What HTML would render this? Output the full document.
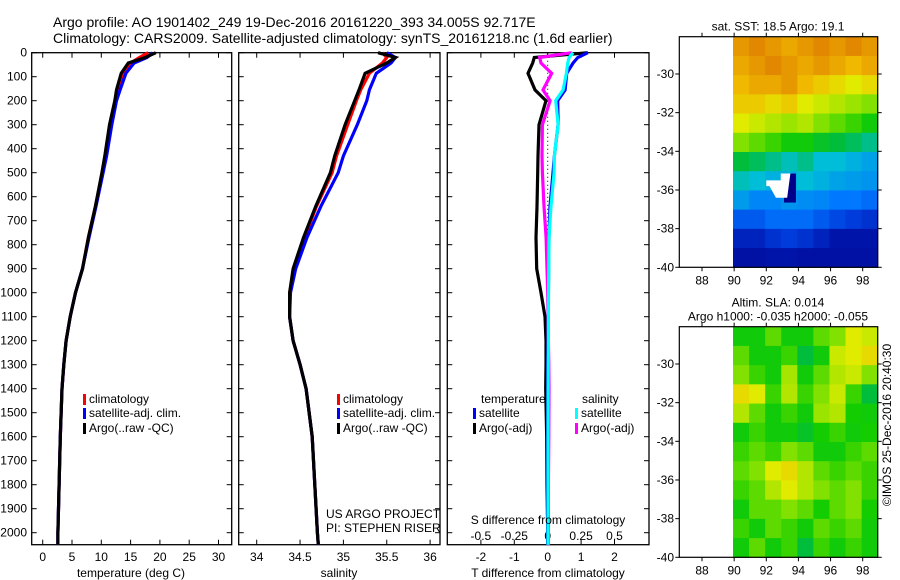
<!DOCTYPE html>
<html><head><meta charset="utf-8"><style>
html,body{margin:0;padding:0;background:#fff;}
svg{display:block;font-family:"Liberation Sans",sans-serif;}
text{font-size:12px;fill:#000;}
</style></head><body>
<svg id="chart" width="900" height="580" viewBox="0 0 900 580" xmlns="http://www.w3.org/2000/svg">
<text x="53" y="27" style="font-size:14px">Argo profile: AO 1901402_249 19-Dec-2016 20161220_393 34.005S 92.717E</text>
<text x="53" y="43" style="font-size:14px">Climatology: CARS2009. Satellite-adjusted climatology: synTS_20161218.nc (1.6d earlier)</text>
<g id="g1"></g>
<g id="g2"></g>
<g id="g3"></g>
<g id="m1"></g>
<g id="m2"></g>
<text transform="translate(891,425) rotate(-90)" text-anchor="middle" style="font-size:12px"><tspan x="0" y="0">©IMOS 25-Dec-2016 20:40:30</tspan></text>
</svg>
<script>
const depths=[0,20,43,86,155,200,300,430,500,640,770,900,1000,1100,1200,1300,1400,1600,1800,2000,2050];
const tempArgo=[19.3,17.5,14.6,13.4,12.6,12.3,11.4,10.6,10.1,9.0,7.8,6.8,5.6,4.7,4.0,3.6,3.3,3.0,2.8,2.6,2.6];
const tempClim=[18.0,16.5,15.0,13.8,12.9,12.4,11.6,10.7,10.2,9.0,7.8,6.8,5.6,4.7,4.0,3.6,3.3,3.0,2.8,2.6,2.6];
const tempSat=[18.8,17.8,15.6,14.2,13.2,12.6,11.8,10.9,10.3,9.1,7.9,6.8,5.6,4.7,4.0,3.6,3.3,3.0,2.8,2.6,2.6];
const salArgo=[35.4,35.6,35.5,35.25,35.18,35.13,35.02,34.9,34.85,34.68,34.54,34.42,34.38,34.38,34.42,34.5,34.57,34.64,34.67,34.7,34.71];
const salClim=[35.45,35.5,35.45,35.3,35.2,35.15,35.05,34.92,34.87,34.69,34.55,34.43,34.38,34.38,34.42,34.5,34.57,34.64,34.67,34.7,34.71];
const salSat=[35.5,35.6,35.55,35.38,35.3,35.27,35.16,35.0,34.94,34.74,34.58,34.45,34.39,34.38,34.42,34.5,34.57,34.64,34.67,34.7,34.71];
const dTArgo=[1.2,-0.4,-0.45,-0.59,-0.38,-0.05,-0.26,-0.29,-0.3,-0.32,-0.35,-0.33,-0.2,-0.08,-0.05,-0.05,-0.06,-0.03,-0.02,0,0];
const dTSat=[1.2,0.9,0.76,0.57,0.52,0.3,0.31,0.2,0.16,0.07,0.04,0.03,0.02,0.01,0.01,0,0,0,0,0,0];
const dSArgo=[0.18,-0.06,-0.05,0.03,-0.035,0.018,-0.04,-0.043,-0.04,-0.028,-0.012,-0.005,0,0.003,0.005,0.008,0.01,0.008,0.005,0.005,0.005];
const dSSat=[0.19,0.16,0.15,0.14,0.115,0.06,0.078,0.05,0.048,0.025,0.01,0.008,0.006,0.005,0.005,0.004,0.003,0.002,0.002,0.002,0.002];
const depthTicks=[0,100,200,300,400,500,600,700,800,900,1000,1100,1200,1300,1400,1500,1600,1700,1800,1900,2000];
const tempTicks=[0,5,10,15,20,25,30];
const salTicks=[34,34.5,35,35.5,36];
const tTicks=[-2,-1,0,1,2];
const sTicks=[-0.5,-0.25,0,0.25,0.5];
const sstGrid=[
[0.8,0.82,0.8,0.78,0.8,0.82,0.8,0.82,0.8],
[0.78,0.8,0.82,0.8,0.78,0.8,0.78,0.76,0.78],
[0.76,0.78,0.78,0.8,0.76,0.74,0.72,0.7,0.72],
[0.74,0.74,0.72,0.74,0.7,0.68,0.66,0.64,0.62],
[0.7,0.68,0.66,0.64,0.66,0.62,0.6,0.58,0.55],
[0.62,0.6,0.58,0.55,0.55,0.52,0.5,0.48,0.45],
[0.5,0.48,0.45,0.42,0.45,0.4,0.4,0.38,0.36],
[0.42,0.4,0.38,0.38,0.4,0.38,0.36,0.35,0.34],
[0.35,0.32,0.32,0.34,0.33,0.32,0.3,0.3,0.28],
[0.25,0.25,0.28,0.28,0.28,0.25,0.22,0.2,0.18],
[0.15,0.15,0.18,0.2,0.18,0.15,0.12,0.12,0.12],
[0.1,0.1,0.12,0.12,0.1,0.1,0.1,0.1,0.1]];
const slaGrid=[
[0.55,0.55,0.6,0.55,0.55,0.6,0.62,0.7,0.68],
[0.6,0.55,0.55,0.58,0.5,0.55,0.68,0.7,0.72],
[0.62,0.58,0.55,0.65,0.55,0.6,0.66,0.68,0.62],
[0.72,0.7,0.58,0.66,0.58,0.62,0.68,0.58,0.5],
[0.66,0.6,0.55,0.58,0.55,0.64,0.66,0.56,0.55],
[0.55,0.58,0.55,0.55,0.52,0.56,0.58,0.55,0.56],
[0.58,0.6,0.58,0.62,0.6,0.55,0.55,0.58,0.6],
[0.6,0.62,0.7,0.72,0.66,0.6,0.58,0.6,0.58],
[0.58,0.6,0.66,0.7,0.66,0.62,0.6,0.62,0.58],
[0.55,0.6,0.6,0.62,0.6,0.56,0.6,0.62,0.56],
[0.58,0.55,0.6,0.58,0.55,0.6,0.58,0.6,0.55],
[0.55,0.6,0.55,0.58,0.5,0.58,0.55,0.58,0.55]];
const lonTicks=[88,90,92,94,96,98];
const latTicks=[-30,-32,-34,-36,-38,-40];

const NS='http://www.w3.org/2000/svg';
function mk(parent,tag,attrs,txt){const e=document.createElementNS(NS,tag);for(const k in attrs)e.setAttribute(k,attrs[k]);if(txt!==undefined)e.textContent=txt;parent.appendChild(e);return e;}
const yD=d=>52.7+d*0.24;
function panelFrame(g,x0,x1){
  const r=mk(g,'rect',{x:x0,y:52.7,width:x1-x0,height:492,fill:'none',stroke:'#000','stroke-width':1.3});
  
  
  depthTicks.forEach(d=>{
    const l=mk(g,'line',{x1:x0,x2:x0+5,y1:yD(d),y2:yD(d),stroke:'#000'});
    
    
    const l2=mk(g,'line',{x1:x1,x2:x1-5,y1:yD(d),y2:yD(d),stroke:'#000'});
    
    
  });
}
function line(g,xs,xf,color,name,w){
  const pts=xs.map((v,i)=>xf(v).toFixed(1)+','+yD(depths[i]).toFixed(1)).join(' ');
  const p=mk(g,'polyline',{points:pts,fill:'none',stroke:color,'stroke-width':w||3.2,'stroke-linejoin':'miter'});
  
  
}
function xticks(g,vals,xf,y){
  vals.forEach((v)=>{
    const x=xf(v);
    const a=mk(g,'line',{x1:x,x2:x,y1:52.7,y2:57.7,stroke:'#000'});
    
    
    const b=mk(g,'line',{x1:x,x2:x,y1:544.7,y2:539.7,stroke:'#000'});
    
    
    const t=mk(g,'text',{x:x,y:y,'text-anchor':'middle'},String(v));
    
    
  });
}
function legendItem(g,x,y,color,label){
  const r=mk(g,'rect',{x:x,y:y-9,width:3,height:11,fill:color});
  
  
  const t=mk(g,'text',{x:x+6,y:y},label);
  
  
}
// Panel 1
const g1=document.getElementById('g1');
const xT=v=>42.7+v*5.86;
panelFrame(g1,31.7,231.7);
depthTicks.forEach(d=>{const t=mk(g1,'text',{x:27,y:yD(d)+4,'text-anchor':'end'},String(d));

});
xticks(g1,tempTicks,xT,561);
line(g1,tempClim,xT,'#f00','climatology-temp-line');
line(g1,tempSat,xT,'#00f','satellite-temp-line');
line(g1,tempArgo,xT,'#000','argo-temp-line');
{const t=mk(g1,'text',{x:131,y:577,'text-anchor':'middle'},'temperature (deg C)');}
legendItem(g1,83,403,'#f00','climatology');
legendItem(g1,83,417,'#00f','satellite-adj. clim.');
legendItem(g1,83,432,'#000','Argo(..raw -QC)');
// Panel 2
const g2=document.getElementById('g2');
const xS=v=>256.7+(v-34)*86.7;
panelFrame(g2,238.7,440);
xticks(g2,salTicks,xS,561);
line(g2,salClim,xS,'#f00','climatology-sal-line');
line(g2,salSat,xS,'#00f','satellite-sal-line');
line(g2,salArgo,xS,'#000','argo-sal-line');
{const t=mk(g2,'text',{x:339,y:577,'text-anchor':'middle'},'salinity');}
legendItem(g2,337,403,'#f00','climatology');
legendItem(g2,337,417,'#00f','satellite-adj. clim.');
legendItem(g2,337,432,'#000','Argo(..raw -QC)');
{const t=mk(g2,'text',{x:326,y:518},'US ARGO PROJECT');
const t2=mk(g2,'text',{x:326,y:532},'PI: STEPHEN RISER');}
// Panel 3
const g3=document.getElementById('g3');
const xDT=v=>547.7+v*33.4;
const xDS=v=>547.7+v*133.6;
panelFrame(g3,447.3,649);
xticks(g3,tTicks,xDT,561);
sTicks.forEach(v=>{const t=mk(g3,'text',{x:xDS(v),y:540,'text-anchor':'middle'},String(v));});
{const zl=mk(g3,'line',{x1:xDT(0),x2:xDT(0),y1:yD(0),y2:yD(2050),stroke:'#000','stroke-dasharray':'1 3'});}
line(g3,dTArgo,xDT,'#000','argo-temp-diff-line');
line(g3,dTSat,xDT,'#00f','satellite-temp-diff-line');
line(g3,dSArgo,xDS,'#f0f','argo-sal-diff-line');
line(g3,dSSat,xDS,'#0ff','satellite-sal-diff-line');
{const t=mk(g3,'text',{x:548,y:524,'text-anchor':'middle'},'S difference from climatology');
const t2=mk(g3,'text',{x:548,y:577,'text-anchor':'middle'},'T difference from climatology');
const t3=mk(g3,'text',{x:481,y:403},'temperature');
const t4=mk(g3,'text',{x:582,y:403},'salinity');}
legendItem(g3,473,417,'#00f','satellite');
legendItem(g3,473,432,'#000','Argo(-adj)');
legendItem(g3,575,417,'#0ff','satellite');
legendItem(g3,575,432,'#f0f','Argo(-adj)');
// Maps
const cmapStops=[[0,[0,0,130]],[0.12,[0,20,170]],[0.2,[0,60,220]],[0.3,[0,120,255]],[0.4,[0,190,215]],[0.5,[0,190,60]],[0.56,[20,205,0]],[0.62,[130,225,0]],[0.7,[225,235,0]],[0.76,[240,185,0]],[0.82,[225,135,0]],[1,[190,80,0]]];
function cmap(v){
  for(let i=1;i<cmapStops.length;i++){
    if(v<=cmapStops[i][0]){const a=cmapStops[i-1],b=cmapStops[i];const f=(v-a[0])/(b[0]-a[0]);
      return 'rgb('+a[1].map((c,k)=>Math.round(c+(b[1][k]-c)*f)).join(',')+')';}
  }
  return 'rgb(190,80,0)';
}
function map(id,top,grid,titles,name){
  const g=document.getElementById(id);
  const xL=v=>702+(v-88)*16.07;
  const yL=v=>top+37.3+(-30-v)*19.33;
  const bottom=top+230.6;
  const rows=grid.length,cols=grid[0].length;
  const cw=(877.7-733)/cols,ch=(bottom-top)/rows;
  grid.forEach((row,r)=>row.forEach((v,c)=>{
    const cell=mk(g,'rect',{x:733+c*cw,y:top+r*ch,width:cw+0.5,height:ch+0.5,fill:cmap(v)});
    
    
  }));
  const fr=mk(g,'rect',{x:679.3,y:top,width:198.4,height:230.6,fill:'none',stroke:'#000','stroke-width':1.2});
  
  
  lonTicks.forEach(v=>{
    const a=mk(g,'line',{x1:xL(v),x2:xL(v),y1:top,y2:top-4,stroke:'#000'});
    const b=mk(g,'line',{x1:xL(v),x2:xL(v),y1:bottom,y2:bottom+4,stroke:'#000'});
    const t=mk(g,'text',{x:xL(v),y:bottom+17,'text-anchor':'middle'},String(v));
  });
  latTicks.forEach(v=>{
    const a=mk(g,'line',{x1:679.3,x2:675.3,y1:yL(v),y2:yL(v),stroke:'#000'});
    const b=mk(g,'line',{x1:877.7,x2:881.7,y1:yL(v),y2:yL(v),stroke:'#000'});
    const t=mk(g,'text',{x:674,y:yL(v)+4,'text-anchor':'end'},String(v));
  });
  titles.forEach((s,i)=>{const t=mk(g,'text',{x:778,y:top-(titles.length-i)*14+8,'text-anchor':'middle'},s);});
  return {g,xL,yL};
}
const mm=map('m1',36.7,sstGrid,['sat. SST: 18.5 Argo: 19.1'],'sst-map');
{const b=mk(mm.g,'rect',{x:mm.xL(93.1),y:mm.yL(-35.15),width:12,height:29,fill:'#00008b'});
const w=mk(mm.g,'polygon',{points:[[92,-35.5],[92.9,-35.5],[92.9,-35.15],[93.5,-35.15],[93.3,-36.4],[92.6,-36.4],[92.2,-35.8],[92,-35.8]].map(p=>mm.xL(p[0])+','+mm.yL(p[1])).join(' '),fill:'#fff'});}
map('m2',326.7,slaGrid,['Altim. SLA: 0.014','Argo h1000: -0.035 h2000: -0.055'],'sla-map');
</script>
</body></html>
